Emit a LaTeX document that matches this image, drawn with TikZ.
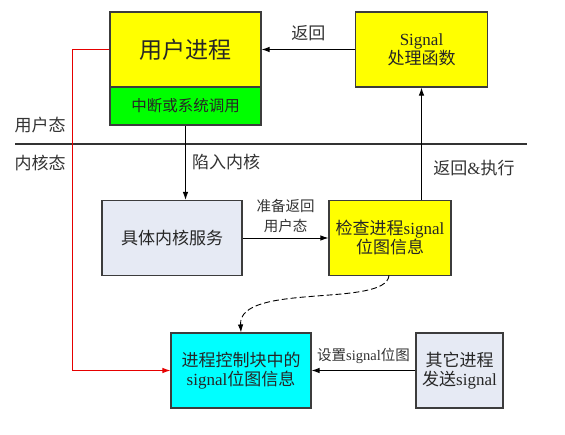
\documentclass[tikz,border=0pt]{standalone}
\usepackage{fontspec}
\setmainfont{Liberation Serif}
\newfontfamily\cjk{Noto Sans CJK SC}
\usetikzlibrary{arrows.meta}
\definecolor{boxgray}{RGB}{230,234,244}
\definecolor{edgegray}{RGB}{60,60,60}
\definecolor{yel}{RGB}{255,255,0}
\definecolor{grn}{RGB}{0,255,0}
\definecolor{cyn}{RGB}{0,255,255}
\definecolor{rd}{RGB}{230,0,0}
\tikzset{
  box/.style={draw=edgegray,line width=1.1pt,inner sep=0pt,align=center,text=black!85,font=\fontsize{17}{21}\selectfont},
  conn/.style={line width=0.9pt,-{Latex[length=8pt,width=5.5pt]}},
  lbl/.style={font=\fontsize{17}{21}\selectfont,text=black!80,inner sep=0pt,align=center},
  slbl/.style={font=\fontsize{14.5}{21}\selectfont,text=black!80,inner sep=0pt,align=center}
}
\begin{document}
\begin{tikzpicture}[x=1pt,y=-1pt]
\useasboundingbox[fill=white] (0,0) rectangle (565,435);
% boxes
\node[box,fill=yel,minimum width=151pt,minimum height=75pt,font=\fontsize{23}{26}\selectfont] (user) at (185.5,49.5) {\cjk 用户进程};
\node[box,fill=grn,minimum width=151pt,minimum height=38pt,font=\fontsize{15.5}{19}\selectfont] (sys) at (185.5,106) {\cjk 中断或系统调用};
\node[box,fill=yel,minimum width=132pt,minimum height=75pt] (sig) at (421.5,49.5) {Signal\\[-2pt]{\cjk 处理函数}};
\node[box,fill=boxgray,minimum width=140pt,minimum height=75pt] (serv) at (172,238) {\cjk 具体内核服务};
\node[box,fill=yel,minimum width=122pt,minimum height=75pt] (chk) at (390,238) {{\cjk 检查进程}signal\\[-2pt]{\cjk 位图信息}};
\node[box,fill=cyn,minimum width=140pt,minimum height=75pt] (pcb) at (241,370.5) {{\cjk 进程控制块中的}\\[-2pt]signal{\cjk 位图信息}};
\node[box,fill=boxgray,minimum width=87pt,minimum height=75pt] (oth) at (459.5,370.5) {{\cjk 其它进程}\\[-2pt]{\cjk 发送}signal};
% divider
\coordinate (dl) at (15,144);
\coordinate (dr) at (527,144);
\draw[line width=1.6pt,draw=black!80] (dl) -- (dr);
\node[lbl] (ustate) at (40,125) {\cjk 用户态};
\node[lbl] (kstate) at (40,163) {\cjk 内核态};
% connectors
\draw[conn] (sig.west) -- (user.east) node[lbl,midway,above=8pt] (l1) {\cjk 返回};
\draw[conn] (sys.south) -- (sys.south |- serv.north);
\node[lbl,anchor=west] (l2) at (192,162) {\cjk 陷入内核};
\draw[conn] (serv.east) -- (chk.west) node[slbl,midway,above=5pt] (l3) {\cjk 准备返回\\[-1pt]\cjk 用户态};
\draw[conn] (chk.north -| sig.south) -- (sig.south);
\node[lbl] (l4) at (474,168) {{\cjk 返回}\&{\cjk 执行}};
\draw[conn,dash pattern=on 6pt off 3pt] (389,275.5) .. controls (386,308) and (238,282) .. (pcb.north);
\draw[conn] (oth.west) -- (pcb.east) node[slbl,midway,above=6pt] (l5) {{\cjk 设置}signal{\cjk 位图}};
\coordinate (r1) at (72,49.5);
\coordinate (r2) at (72,370.5);
\draw[conn,draw=rd] (user.west) -- (r1) -- (r2) -- (pcb.west);
\end{tikzpicture}
\end{document}
